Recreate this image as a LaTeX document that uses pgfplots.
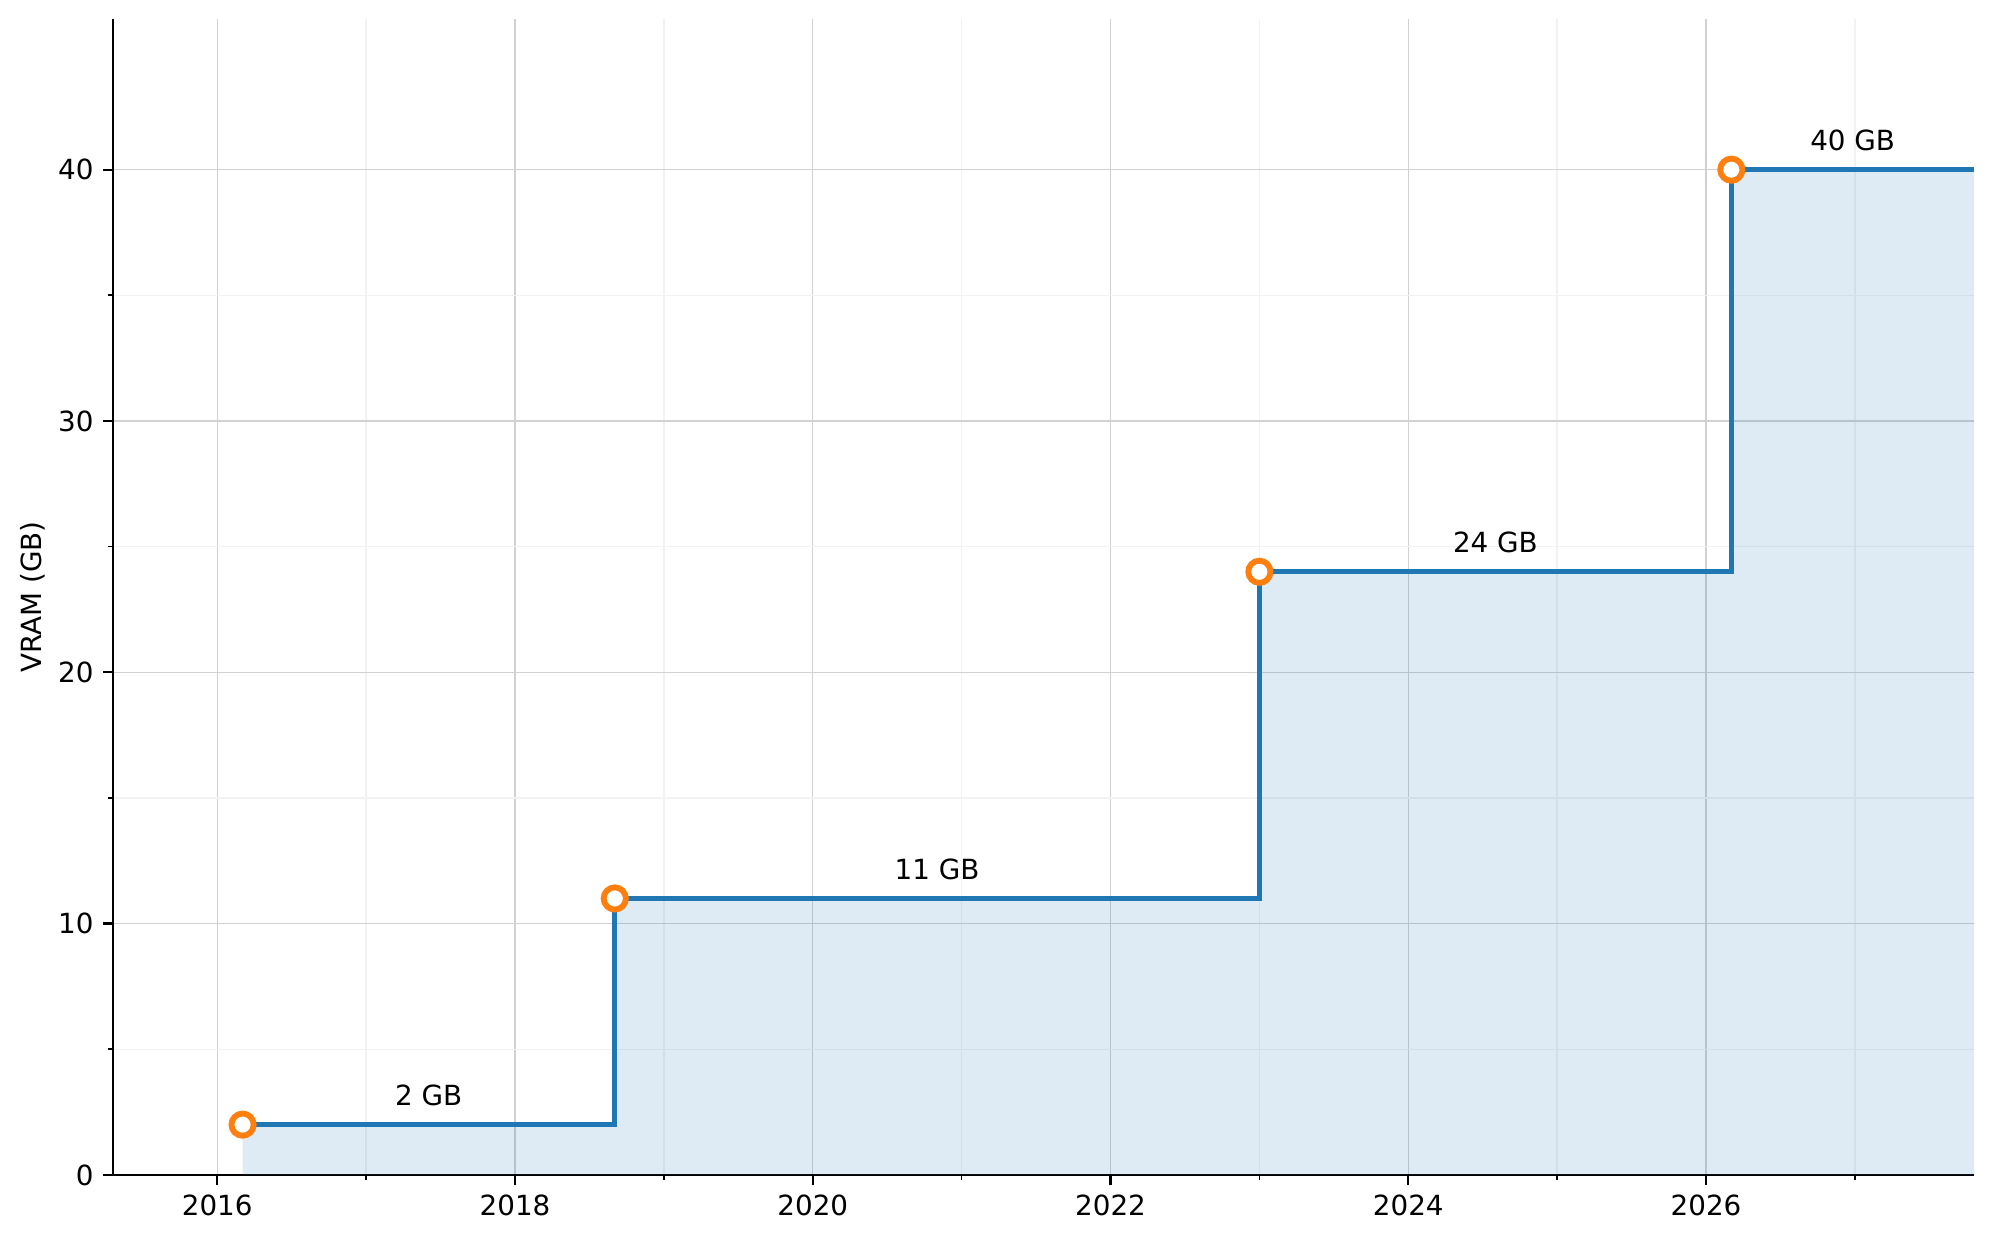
\documentclass[border=0pt]{standalone}
\usepackage{pgfplots}
\pgfplotsset{compat=1.18}
\usepackage{fontspec}
\setmainfont{DejaVu Sans}
\definecolor{mblue}{HTML}{1F77B4}
\definecolor{morange}{HTML}{FF7F0E}
\begin{document}
\begin{tikzpicture}
\useasboundingbox (-40.7pt,-24.1pt) rectangle (677.2pt,423.0pt);
\begin{axis}[
  at={(0,0)}, anchor=south west,
  scale only axis, width=670pt, height=416.2pt,
  xmin=2015.3, xmax=2027.8, ymin=0, ymax=46,
  axis x line*=bottom, axis y line*=left,
  axis line style={line width=0.8pt, black},
  xtick={2016,2018,...,2026},
  minor xtick={2017,2019,...,2027},
  ytick={0,10,20,30,40},
  minor ytick={5,15,25,35},
  tick align=outside,
  major tick length=3.5pt, minor tick length=2pt,
  tick style={line width=0.8pt, black},
  minor tick style={line width=0.6pt, black},
  grid=both,
  major grid style={black!18, line width=0.5pt},
  minor grid style={black!5, line width=0.5pt},
  /pgf/number format/1000 sep={},
  /pgf/number format/assume math mode=true,
  tick label style={font=\fontsize{10}{12}\selectfont},
  ylabel={VRAM (GB)},
  ylabel style={at={(axis description cs:-0.0433,0.5)}, anchor=center, font=\fontsize{10}{12}\selectfont},
  clip=false,
]
\addplot[const plot, draw=none, fill=mblue, fill opacity=0.15] coordinates {
  (2016.17,2) (2018.67,11) (2023.0,24) (2026.17,40) (2027.8,40)
} \closedcycle;
\addplot[const plot, mblue, line width=1.8pt, mark=none] coordinates {
  (2016.17,2) (2018.67,11) (2023.0,24) (2026.17,40) (2027.8,40)
};
\addplot[only marks, mark=*, mark size=4pt, mark options={draw=morange, fill=white, line width=2.1pt}] coordinates {
  (2016.17,2) (2018.67,11) (2023.0,24) (2026.17,40)
};
\node[anchor=base, inner sep=0pt, font=\fontsize{10}{12}\selectfont, yshift=6.9pt] at (axis cs:2017.42,2) {2 GB};
\node[anchor=base, inner sep=0pt, font=\fontsize{10}{12}\selectfont, yshift=6.9pt] at (axis cs:2020.835,11) {11 GB};
\node[anchor=base, inner sep=0pt, font=\fontsize{10}{12}\selectfont, yshift=6.9pt] at (axis cs:2024.585,24) {24 GB};
\node[anchor=base, inner sep=0pt, font=\fontsize{10}{12}\selectfont, yshift=6.9pt] at (axis cs:2026.985,40) {40 GB};
\end{axis}
\end{tikzpicture}
\end{document}
